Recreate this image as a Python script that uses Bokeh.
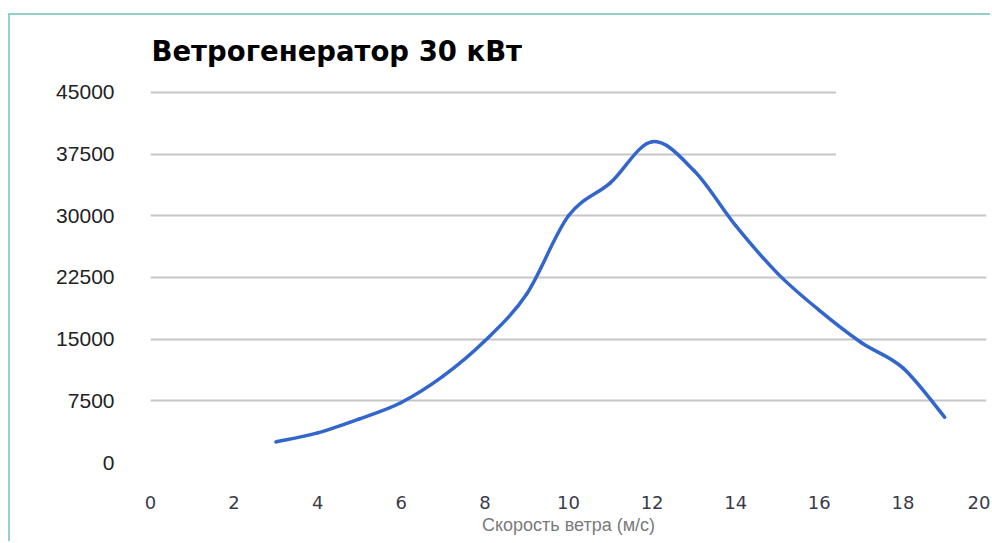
from bokeh.plotting import figure
from bokeh.models import BoxAnnotation, FixedTicker, ColumnDataSource
from bokeh.embed import file_html
from bokeh.resources import INLINE

# data
wind_speed = [3, 4, 5, 6, 7, 8, 9, 10, 11, 12, 13, 14, 15, 16, 17, 18, 19]
power = [2500, 3600, 5300, 7300, 10500, 14800, 20500, 30000, 34000, 39000,
         35500, 28800, 23000, 18500, 14600, 11500, 5500]
x_ticks = [0, 2, 4, 6, 8, 10, 12, 14, 16, 18, 20]
y_ticks = [0, 7500, 15000, 22500, 30000, 37500, 45000]
title_text = "Ветрогенератор 30 кВт"
x_label = "Скорость ветра (м/с)"

FONT = "Liberation Sans"
BORDER = "#93cfd0"

p = figure(width=982, height=528, x_range=(0, 20), y_range=(0, 45600),
           output_backend="svg", toolbar_location=None,
           min_border_left=140, min_border_right=6, min_border_top=72,
           min_border_bottom=81)
p.styles = {"margin-top": "13px", "margin-left": "8px",
            "border-top": f"2px solid {BORDER}",
            "border-left": f"2px solid {BORDER}"}
p.outline_line_color = None
p.background_fill_color = "white"
p.border_fill_color = "white"

p.title.text = title_text
p.title.text_font = "DejaVu Sans"
p.title.text_font_size = "27.5px"
p.title.text_font_style = "bold"
p.title.text_color = "#000000"
p.title.align = "left"
p.title.vertical_align = "top"
p.title.offset = 1
p.title.standoff = 37

# axes
p.xaxis.ticker = FixedTicker(ticks=x_ticks)
p.yaxis.ticker = FixedTicker(ticks=y_ticks)
for ax in (p.xaxis[0], p.yaxis[0]):
    ax.axis_line_color = None
    ax.major_tick_line_color = None
    ax.minor_tick_line_color = None
p.yaxis.major_label_text_font = FONT
p.yaxis.major_label_text_font_size = "21px"
p.yaxis.major_label_text_color = "#222222"
p.yaxis.major_label_standoff = 30
p.xaxis.major_label_text_font = "DejaVu Sans"
p.xaxis.major_label_text_font_size = "18px"
p.xaxis.major_label_text_color = "#3a3a4a"
p.xaxis.major_label_standoff = 27
p.xaxis.axis_label = x_label
p.xaxis.axis_label_text_font = FONT
p.xaxis.axis_label_text_font_size = "18px"
p.xaxis.axis_label_text_font_style = "normal"
p.xaxis.axis_label_text_color = "#7a7a7a"
p.xaxis.axis_label_standoff = 3

p.xgrid.grid_line_color = None
p.ygrid.grid_line_color = "#c6c6c6"
p.ygrid.grid_line_width = 2

# smooth curve (Catmull-Rom -> cubic Bezier)
n = len(wind_speed)
x0, y0, x1, y1, cx0, cy0, cx1, cy1 = [], [], [], [], [], [], [], []
for i in range(n - 1):
    pa = (wind_speed[max(i - 1, 0)], power[max(i - 1, 0)])
    pb = (wind_speed[i], power[i])
    pc = (wind_speed[i + 1], power[i + 1])
    pd = (wind_speed[min(i + 2, n - 1)], power[min(i + 2, n - 1)])
    x0.append(pb[0]); y0.append(pb[1]); x1.append(pc[0]); y1.append(pc[1])
    cx0.append(pb[0] + (pc[0] - pa[0]) / 6)
    cy0.append(pb[1] + (pc[1] - pa[1]) / 6)
    cx1.append(pc[0] - (pd[0] - pb[0]) / 6)
    cy1.append(pc[1] - (pd[1] - pb[1]) / 6)
src = ColumnDataSource(dict(x0=x0, y0=y0, x1=x1, y1=y1, cx0=cx0, cy0=cy0,
                            cx1=cx1, cy1=cy1))
p.bezier(x0="x0", y0="y0", x1="x1", y1="y1", cx0="cx0", cy0="cy0",
         cx1="cx1", cy1="cy1", source=src, line_color="#3366cc",
         line_width=3.5, line_cap="round")

# top-right gridlines are hidden in the reference
p.add_layout(BoxAnnotation(left=16.4, bottom=33000, fill_color="white",
                           fill_alpha=1.0, line_color=None))

open("out.html", "w").write(file_html(p, INLINE))
